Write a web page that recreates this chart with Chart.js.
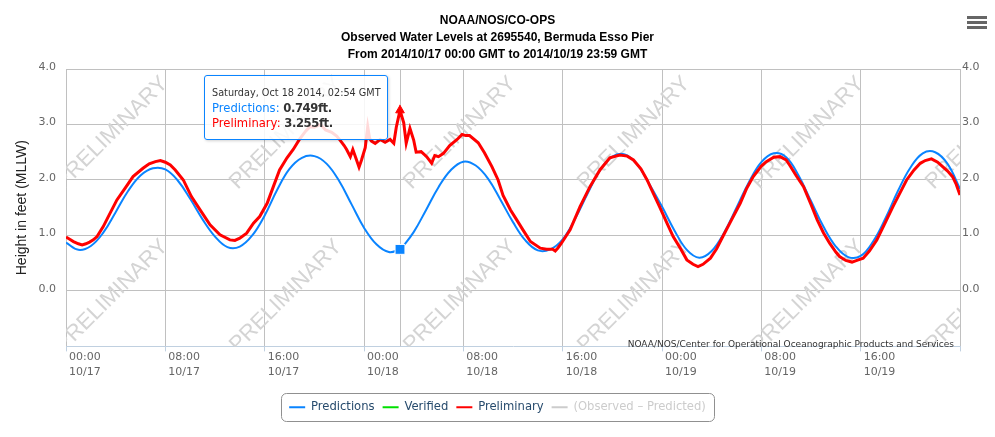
<!DOCTYPE html>
<html><head><meta charset="utf-8">
<script src="https://cdn.jsdelivr.net/npm/chart.js@4.4.1/dist/chart.umd.min.js"></script>
<style>
html,body{margin:0;padding:0;background:#fff;}
#wrap{position:relative;width:995px;height:437px;overflow:hidden;}
#tip{position:absolute;display:none;box-sizing:border-box;width:184px;height:65px;padding:9px 6px 8px 7px;border:1px solid #0a84ff;border-radius:3px;background:rgba(255,255,255,0.85);box-shadow:1px 1px 3px rgba(0,0,0,0.18);font-family:'DejaVu Sans',sans-serif;font-size:11.6px;line-height:15.5px;color:#333;white-space:nowrap;}
#tip .h{font-size:9.7px;}
#tip b{font-weight:bold;color:#333;letter-spacing:-0.4px;}
</style></head><body>
<div id="wrap"><canvas id="c" width="995" height="437"></canvas><div id="tip"></div></div>
<script>
// ---------- data (hours after 2014/10/17 00:00 GMT, feet MLLW) ----------
const titleLines = ['NOAA/NOS/CO-OPS', 'Observed Water Levels at 2695540, Bermuda Esso Pier', 'From 2014/10/17 00:00 GMT to 2014/10/19 23:59 GMT'];
const seriesNames = ['Predictions', 'Verified', 'Preliminary', '(Observed \u2013 Predicted)'];

const predHours = [0,1,2,3,4,5,6,7,8,9,10,11,12,13,14,15,16,17,18,19,20,21,22,23,24,25,26,26.9,27,28,29,30,31,32,33,34,35,36,37,38,39,40,41,42,43,44,45,46,47,48,49,50,51,52,53,54,55,56,57,58,59,60,61,62,63,64,65,66,67,68,69,70,71,72];
const predFeet = [0.87,0.74,0.81,1.05,1.42,1.80,2.08,2.21,2.19,1.99,1.66,1.29,0.98,0.79,0.80,1.00,1.36,1.82,2.20,2.40,2.43,2.29,1.98,1.56,1.14,0.84,0.70,0.749,0.765,1.06,1.46,1.87,2.18,2.33,2.26,2.02,1.64,1.24,0.91,0.73,0.75,0.93,1.30,1.75,2.17,2.42,2.46,2.28,1.92,1.52,1.09,0.74,0.60,0.72,1.05,1.50,1.96,2.32,2.48,2.41,2.08,1.62,1.16,0.80,0.61,0.63,0.89,1.31,1.80,2.22,2.48,2.50,2.29,1.84];

const verifiedHours = [];
const verifiedFeet = [];

const prelimHours = [0,0.3,0.6,1.0,1.3,1.6,1.9,2.2,2.5,3.0,3.5,4.1,4.75,5.4,6.2,6.7,7.2,7.6,8.0,8.4,8.8,9.45,10.1,10.8,11.6,12.4,13.2,13.6,14.0,14.55,15.1,15.6,16.2,16.7,17.2,17.8,18.3,18.8,19.3,19.65,20.0,20.5,20.9,21.4,21.8,22.1,22.4,22.6,22.9,23.1,23.4,23.6,23.8,24.1,24.3,24.45,24.6,24.9,25.3,25.7,26.1,26.4,26.6,26.9,27.2,27.4,27.7,28.0,28.2,28.6,29.05,29.45,29.7,30.0,30.4,30.9,31.5,31.9,32.2,32.5,33.2,33.7,34.3,34.8,35.2,35.8,36.3,36.8,37.4,38.2,38.7,39.2,39.4,39.6,39.9,40.6,41.4,42.2,43.0,43.8,44.6,45.2,45.7,46.3,46.8,47.3,47.8,48.4,48.9,49.5,50.0,50.5,50.9,51.3,51.9,52.4,52.9,53.6,54.3,54.8,55.35,56.0,56.4,57.0,57.5,58.0,58.3,58.8,59.4,60.0,60.5,61.0,61.5,62.0,62.3,62.8,63.3,63.7,64.2,64.7,65.3,66.0,66.6,67.2,67.7,68.3,68.8,69.2,69.7,70.2,70.6,71.0,71.4,71.7,72.0];
const prelimFeet = [0.97,0.93,0.89,0.85,0.83,0.85,0.88,0.92,0.98,1.16,1.38,1.64,1.85,2.06,2.21,2.29,2.33,2.35,2.32,2.27,2.18,2.00,1.70,1.46,1.19,1.01,0.92,0.91,0.95,1.04,1.22,1.34,1.58,1.88,2.18,2.40,2.55,2.73,2.88,2.96,2.95,3.00,2.90,2.86,2.79,2.71,2.62,2.55,2.42,2.55,2.36,2.23,2.36,2.58,2.96,2.75,2.70,2.66,2.73,2.68,2.73,2.66,2.95,3.255,3.03,2.66,2.93,2.72,2.50,2.51,2.42,2.30,2.44,2.42,2.48,2.62,2.73,2.82,2.80,2.80,2.67,2.49,2.24,2.00,1.72,1.46,1.28,1.10,0.89,0.77,0.75,0.75,0.72,0.77,0.86,1.10,1.52,1.88,2.18,2.40,2.45,2.43,2.36,2.20,2.00,1.76,1.52,1.22,0.98,0.76,0.56,0.48,0.44,0.48,0.59,0.76,0.98,1.28,1.58,1.84,2.06,2.25,2.33,2.41,2.42,2.36,2.26,2.08,1.88,1.56,1.28,1.05,0.86,0.70,0.62,0.55,0.52,0.55,0.59,0.72,0.92,1.24,1.52,1.78,2.00,2.18,2.30,2.35,2.38,2.32,2.24,2.16,2.06,1.92,1.73];

const xTickHours = [0,8,16,24,32,40,48,56,64,72];
const xTickLabels = [['00:00','10/17'],['08:00','10/17'],['16:00','10/17'],['00:00','10/18'],['08:00','10/18'],['16:00','10/18'],['00:00','10/19'],['08:00','10/19'],['16:00','10/19'],''];
const yTickValues = [0,1,2,3,4];
const yTickLabels = ['0.0','1.0','2.0','3.0','4.0'];
const tooltipHour = 26.9;   // Saturday, Oct 18 2014, 02:54 GMT
const creditText = 'NOAA/NOS/Center for Operational Oceanographic Products and Services';
const watermarkText = 'PRELIMINARY';

// ---------- styles ----------
const BLUE = '#0a84ff', RED = '#ff0000', GREEN = '#00e000', LGRAY = '#cccccc';
const GRID = '#c0c0c0';
const FONT = "'DejaVu Sans', sans-serif";
const ARIAL = "'Liberation Sans', Arial, sans-serif";
Chart.defaults.font.family = FONT;

const pts = (hs, vs) => hs.map((h, i) => ({x: h, y: vs[i]}));
const DAYS = ['Sunday','Monday','Tuesday','Wednesday','Thursday','Friday','Saturday'];
const MONS = ['Jan','Feb','Mar','Apr','May','Jun','Jul','Aug','Sep','Oct','Nov','Dec'];
function fmtTime(h) {
  const d = new Date(Date.UTC(2014, 9, 17) + Math.round(h * 60) * 60000);
  const p = n => String(n).padStart(2, '0');
  return DAYS[d.getUTCDay()] + ', ' + MONS[d.getUTCMonth()] + ' ' + d.getUTCDate() + ' ' + d.getUTCFullYear() + ', ' + p(d.getUTCHours()) + ':' + p(d.getUTCMinutes()) + ' GMT';
}

function externalTip(context) {
  const {chart, tooltip} = context;
  const el = document.getElementById('tip');
  const dps = tooltip.dataPoints || [];
  if (!dps.length) { el.style.display = 'none'; return; }
  let html = '<div class="h">' + fmtTime(dps[0].raw.x) + '</div>';
  dps.forEach(p => {
    html += '<div><span style="color:' + p.dataset.borderColor + '">' + p.dataset.label + ':</span> <b>' + p.raw.y.toFixed(3) + 'ft.</b></div>';
  });
  el.innerHTML = html;
  el.style.left = (tooltip.caretX - 196) + 'px';
  el.style.top = (chart.chartArea.top + 6) + 'px';
  el.style.display = 'block';
}

const decor = {
  id: 'decor',
  beforeDatasetsDraw(chart) {
    const {ctx, chartArea: a} = chart;
    ctx.save();
    ctx.beginPath(); ctx.rect(a.left, a.top, a.right - a.left, a.bottom - a.top); ctx.clip();
    ctx.font = '22px ' + ARIAL;
    ctx.fillStyle = '#d4d4d4';
    ctx.textAlign = 'center'; ctx.textBaseline = 'middle';
    for (let r = 0; r < 2; r++) {
      for (let c = 0; c < 6; c++) {
        ctx.save();
        ctx.translate(a.left + 46 + c * 174, a.top + 64 + r * 163);
        ctx.rotate(-Math.PI / 4);
        ctx.fillText(watermarkText, 0, 0);
        ctx.restore();
      }
    }
    const act = chart.getActiveElements();
    if (act.length) {
      const x = Math.round(act[0].element.x) + 0.5;
      ctx.strokeStyle = GRID; ctx.lineWidth = 1;
      ctx.beginPath(); ctx.moveTo(x, a.top); ctx.lineTo(x, a.bottom); ctx.stroke();
    }
    ctx.restore();
  },
  afterDraw(chart) {
    const {ctx, chartArea: a} = chart;
    ctx.save();
    // credits
    ctx.font = '9px ' + FONT;
    ctx.fillStyle = '#333';
    ctx.textAlign = 'right'; ctx.textBaseline = 'middle';
    ctx.fillText(creditText, a.right - 6, a.bottom - 2);
    // legend border
    const hb = chart.legend.legendHitBoxes;
    if (hb && hb.length) {
      const l = Math.round(Math.min(...hb.map(b => b.left)) - 8) + 0.5;
      const r = Math.round(Math.max(...hb.map(b => b.left + b.width)) + 8) + 0.5;
      const cy = hb[0].top + hb[0].height / 2;
      const t = Math.round(cy - 14) + 0.5, bt = Math.round(cy + 14) + 0.5;
      const rad = 5;
      ctx.beginPath();
      ctx.moveTo(l + rad, t); ctx.lineTo(r - rad, t); ctx.arcTo(r, t, r, t + rad, rad);
      ctx.lineTo(r, bt - rad); ctx.arcTo(r, bt, r - rad, bt, rad);
      ctx.lineTo(l + rad, bt); ctx.arcTo(l, bt, l, bt - rad, rad);
      ctx.lineTo(l, t + rad); ctx.arcTo(l, t, l + rad, t, rad);
      ctx.closePath();
      ctx.strokeStyle = '#909090'; ctx.lineWidth = 1; ctx.stroke();
    }
    // export menu icon
    ctx.fillStyle = '#666';
    [16, 21, 26].forEach(y => ctx.fillRect(967, y, 20, 3));
    ctx.restore();
  }
};

const chart = new Chart(document.getElementById('c'), {
  type: 'line',
  data: {
    datasets: [
      {label: seriesNames[0], data: pts(predHours, predFeet), borderColor: BLUE, backgroundColor: BLUE, borderWidth: 2,
       pointRadius: 0, pointHoverRadius: 7, pointStyle: 'rect', pointHoverBackgroundColor: BLUE, pointHoverBorderColor: '#ffffff', pointHoverBorderWidth: 1,
       tension: 0.4, order: 2},
      {label: seriesNames[1], data: pts(verifiedHours, verifiedFeet), borderColor: GREEN, backgroundColor: GREEN, borderWidth: 2, pointRadius: 0, order: 3},
      {label: seriesNames[2], data: pts(prelimHours, prelimFeet), borderColor: RED, backgroundColor: RED, borderWidth: 3,
       pointRadius: 0, pointHoverRadius: 5, pointStyle: 'triangle', pointHoverBackgroundColor: RED, pointHoverBorderColor: RED, pointHoverBorderWidth: 1,
       tension: 0, order: 1},
      {label: seriesNames[3], data: [], borderColor: LGRAY, backgroundColor: LGRAY, borderWidth: 2, pointRadius: 0, order: 4}
    ]
  },
  options: {
    responsive: false, animation: false, devicePixelRatio: 1, events: [],
    layout: {padding: {left: 15.5, right: 15.5, top: 0, bottom: 14}},
    plugins: {
      title: {display: true, text: titleLines, color: '#000', font: {family: ARIAL, size: 12, weight: 'bold', lineHeight: 17 / 12}, padding: {top: 12.5, bottom: 5.5}},
      legend: {position: 'bottom', labels: {boxWidth: 16, boxHeight: 2, padding: 8, color: '#274b6d', font: {family: FONT, size: 11.6},
        generateLabels: ch => ch.data.datasets.map((d, i) => ({text: d.label, fillStyle: d.borderColor, strokeStyle: 'rgba(0,0,0,0)', lineWidth: 0, hidden: false, datasetIndex: i, fontColor: i === 3 ? LGRAY : '#274b6d'}))}},
      tooltip: {enabled: false, external: externalTip, position: 'average'}
    },
    scales: {
      x: {type: 'linear', min: 0, max: 72,
        afterBuildTicks: s => { s.ticks = xTickHours.map(v => ({value: v})); },
        afterFit: s => { s.height = 47; },
        grid: {color: GRID, tickColor: '#c0d0e0', tickLength: 5},
        border: {color: '#c0d0e0'},
        ticks: {autoSkip: false, maxRotation: 0, align: 'start', labelOffset: 3, padding: -1, color: '#666', font: {family: FONT, size: 11, lineHeight: 1.3},
          callback: (v, i) => xTickLabels[i]}},
      y: {position: 'left', min: -1, max: 4,
        afterBuildTicks: s => { s.ticks = [-1].concat(yTickValues).map(v => ({value: v})); },
        afterFit: s => { s.width = 50.5; },
        grid: {color: c => (c.tick && c.tick.value === -1) ? 'rgba(0,0,0,0)' : GRID, drawTicks: false},
        border: {display: false},
        title: {display: true, text: 'Height in feet (MLLW)', color: '#222', font: {family: ARIAL, size: 14, lineHeight: 1}, padding: {top: 0, bottom: 9}},
        ticks: {padding: 10, labelOffset: -2, color: '#666', font: {family: FONT, size: 11}, callback: v => v < 0 ? '' : yTickLabels[yTickValues.indexOf(v)]}},
      y2: {position: 'right', min: -1, max: 4,
        afterBuildTicks: s => { s.ticks = [-1].concat(yTickValues).map(v => ({value: v})); },
        afterFit: s => { s.width = 19.5; },
        grid: {drawOnChartArea: false, drawTicks: false},
        border: {display: false},
        ticks: {padding: 2, labelOffset: -2, color: '#666', font: {family: FONT, size: 11}, callback: v => v < 0 ? '' : yTickLabels[yTickValues.indexOf(v)]}}
    }
  },
  plugins: [decor]
});

const act = [
  {datasetIndex: 0, index: predHours.indexOf(tooltipHour)},
  {datasetIndex: 2, index: prelimHours.indexOf(tooltipHour)}
];
chart.setActiveElements(act);
chart.tooltip.setActiveElements(act, {x: chart.getDatasetMeta(0).data[act[0].index].x, y: chart.chartArea.top});
chart.update();
</script>
</body></html>
